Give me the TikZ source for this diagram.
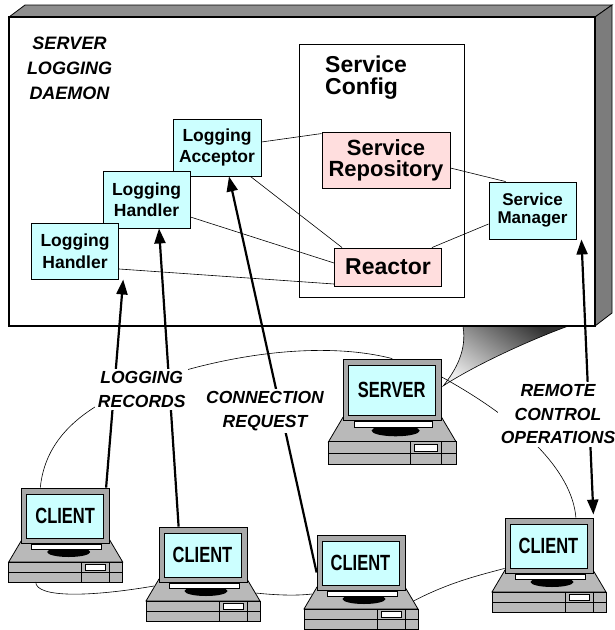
\documentclass[tikz,border=0pt]{standalone}
\usepackage{fontspec}
\setmainfont{Liberation Sans}
\usepackage{graphicx}
\usetikzlibrary{arrows.meta}

\definecolor{boxcyan}{HTML}{CCFFFF}
\definecolor{boxpink}{HTML}{FFDEDE}
\definecolor{facegray}{HTML}{8E8E8E}
\definecolor{sidegray}{HTML}{7C7C7C}
\definecolor{pcgray}{HTML}{B9B9B9}
\definecolor{framegray}{HTML}{A9A9A9}

\tikzset{
  compbox/.style={draw, line width=0.9pt, fill=boxcyan, inner sep=0pt, align=center,
    font=\fontsize{17.5}{21.5}\selectfont\bfseries},
  corebox/.style={draw, line width=0.9pt, fill=boxpink, inner sep=0pt, align=center,
    font=\fontsize{22}{21}\selectfont\bfseries},
  link/.style={line width=0.6pt},
  ring/.style={line width=0.6pt},
  bighead/.tip={Triangle[length=15pt,width=11pt]},
  flow/.style={line width=2.2pt, -bighead},
  tag/.style={fill=white, inner sep=2.5pt, align=center,
    font=\fontsize{17.5}{23.5}\selectfont\bfseries\itshape},
  % a desktop computer: #1 = screen text, #2 = size factor
  pics/computer/.style 2 args={code={
    \begin{scope}[scale=#2]
      \draw[line width=0.8pt, fill=pcgray] (0,52) -- (88,52) -- (101,74) -- (-13,74) -- cycle;
      \draw[line width=0.8pt, fill=pcgray] (-13,74) rectangle (101,94);
      \draw[line width=0.6pt] (-13,84) -- (101,84) (60,74) -- (60,94) (88,74) -- (88,94);
      \draw[line width=0.6pt, fill=white] (64,76) rectangle (84,82);
      \fill[black] (47,64) ellipse [x radius=21.5, y radius=5];
      \draw[line width=0.6pt, fill=white] (10,56) rectangle (80,61);
      \node[draw, line width=0.8pt, fill=framegray, inner sep=0pt,
            minimum width=#2*88pt, minimum height=#2*55pt] (-mon) at (44,27.5) {};
      \node[draw, line width=0.6pt, fill=boxcyan, inner sep=0pt,
            minimum width=#2*77pt, minimum height=#2*44pt,
            font=\fontsize{22}{22}\selectfont\bfseries] (-scr) at (43.5,28)
            {\scalebox{0.75}[1]{#1}};
      \coordinate (-foot) at (14,94);
      \coordinate (-lside) at (-5,59);
      \coordinate (-rside) at (96.5,66);
      \coordinate (-rtop) at (88,16);
      \coordinate (-tip) at (89.5,24);
    \end{scope}
  }}
}

\begin{document}
\begin{tikzpicture}[x=1pt,y=-1pt]
\useasboundingbox (0,0) rectangle (615,630);

% daemon panel with its bevelled top and right faces
\draw[line width=0.8pt, fill=facegray] (9,17) -- (25,5) -- (612,5) -- (595,17) -- cycle;
\draw[line width=0.8pt, fill=sidegray] (595,17) -- (612,5) -- (612,313) -- (595,326) -- cycle;
\node[draw, line width=1.2pt, fill=white, inner sep=0pt,
      minimum width=586pt, minimum height=309pt] (panel) at (302,171.5) {};

\node[anchor=north, inner sep=0pt, align=center,
      font=\fontsize{18}{25}\selectfont\bfseries\itshape] (title) at (69.5,37)
      {SERVER\\LOGGING\\DAEMON};

% service configurator frame
\node[draw, line width=0.8pt, inner sep=0pt,
      minimum width=165pt, minimum height=253pt] (cfg) at (381.5,170.5) {};
\node[anchor=north west, inner sep=0pt, align=left,
      font=\fontsize{23}{22}\selectfont\bfseries] (cfgtitle) at (325,56) {Service\\Config};

% components
\node[compbox, minimum width=88pt, minimum height=57pt] (acc) at (217,147.5) {Logging\\Acceptor};
\node[compbox, minimum width=87pt, minimum height=57pt] (hb) at (146.5,199.5) {Logging\\Handler};
\node[compbox, minimum width=87.5pt, minimum height=56pt] (ha) at (75,251) {Logging\\Handler};
\node[corebox, minimum width=128pt, minimum height=56pt] (repo) at (386,160) {Service\\Repository};
\node[corebox, minimum width=107pt, minimum height=38pt, font=\fontsize{23}{23}\selectfont\bfseries] (reac) at (388,267) {Reactor};
\node[compbox, minimum width=87pt, minimum height=57pt,
      font=\fontsize{17}{18}\selectfont\bfseries] (mgr) at (532.5,210.5) {Service\\Manager};

% internal links
\draw[link] ([yshift=5.5pt]acc.east) -- ([yshift=-2pt]repo.north west);
\draw[link] ([xshift=-11pt]acc.south east) -- ([xshift=8pt]reac.north west);
\draw[link] ([yshift=-17.5pt]hb.east) -- ([yshift=4pt]reac.west);
\draw[link] ([yshift=-18pt]ha.east) -- ([yshift=-17pt]reac.west);
\draw[link] ([yshift=-8pt]repo.east) -- ([xshift=17pt]mgr.north west);
\draw[link] ([yshift=-13.5pt]mgr.west) -- ([xshift=-10pt]reac.north east);

% hosts
\pic (srv) at (343,359) {computer={SERVER}{1.12}};
\pic (c1) at (21.7,488) {computer={CLIENT}{1}};
\pic (c2) at (159,527) {computer={CLIENT}{1}};
\pic (c3) at (317,535) {computer={CLIENT}{1}};
\pic (c4) at (505,518) {computer={CLIENT}{1}};

% callout from the panel down to the server
\shade[top color=black!80, bottom color=black!8, shading angle=-35, draw=black, line width=0.6pt]
  (463,326.5) .. controls (467,350) and (456,370) .. (srv-tip)
  .. controls (475,365) and (530,340) .. (567,326.5) -- cycle;

% network ring
\draw[ring] (srv-mon.north) .. controls (320,340) and (220,355) .. (140,385)
  .. controls (80,408) and (45,440) .. ([xshift=19pt]c1-mon.north west);
\draw[ring] (c1-foot) .. controls (36,598) and (90,597) .. (c2-lside);
\draw[ring] (c2-rside) .. controls (275,595) and (295,596) .. (c3-lside);
\draw[ring] (c3-rside) .. controls (450,582) and (480,575) .. ([yshift=5pt]c4-mon.south west);
\draw[ring] ([xshift=-17.5pt]c4-mon.north east) .. controls (572,470) and (520,420) .. (srv-rtop);

% requests and records
\draw[flow] ([xshift=-4pt]c1-mon.north east) -- ([xshift=4pt]ha.south east);
\draw[flow] ([xshift=20pt]c2-mon.north west) -- ([xshift=12.5pt]hb.south);
\draw[flow] ([yshift=-10pt]c3-mon.west) -- ([xshift=12pt]acc.south);
\draw[flow, bighead-bighead] ([yshift=3pt]c4-mon.north east) -- ([xshift=5pt]mgr.south east);

% labels
\node[tag, anchor=north] (lr) at (141.7,369) {LOGGING\\RECORDS};
\node[tag, anchor=north] (cr) at (265,389) {CONNECTION\\REQUEST};
\node[tag, anchor=north] (rc) at (558,382) {REMOTE\\CONTROL\\OPERATIONS};
\end{tikzpicture}
\end{document}
